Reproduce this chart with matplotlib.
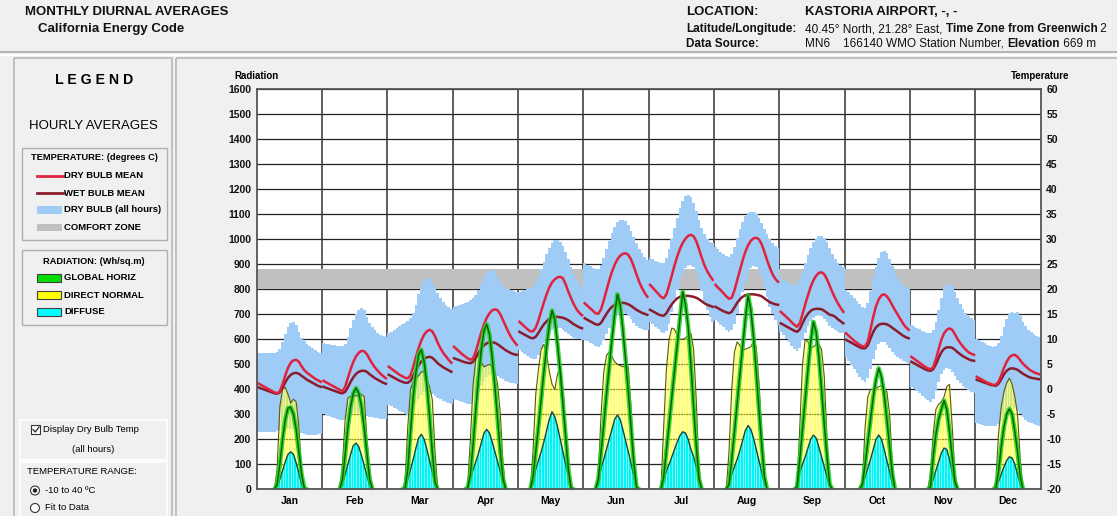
import numpy as np
import matplotlib
matplotlib.use("Agg")
import matplotlib.pyplot as plt
import matplotlib.transforms as mtransforms
from matplotlib.patches import Rectangle, Circle

plt.rcParams['font.family'] = ['Liberation Sans', 'DejaVu Sans']

MONTHS = ["Jan", "Feb", "Mar", "Apr", "May", "Jun",
          "Jul", "Aug", "Sep", "Oct", "Nov", "Dec"]
HOURS = list(range(24))

# Hourly means (deg C), one row of 24 hours per month
DRY_BULB_MEAN = [
    [1.2, 0.9, 0.6, 0.3, 0.0, -0.3, -0.6, -0.8, -0.4, 1.0, 2.8, 4.3, 5.3, 5.8, 5.9, 5.5, 4.6, 3.8, 3.3, 2.9, 2.5, 2.1, 1.8, 1.5],
    [1.7, 1.4, 1.1, 0.8, 0.5, 0.2, -0.1, -0.4, 0.5, 2.3, 4.0, 5.5, 6.6, 7.3, 7.7, 7.6, 7.0, 6.0, 5.1, 4.3, 3.7, 3.1, 2.6, 2.2],
    [4.5, 4.1, 3.7, 3.3, 2.9, 2.6, 2.3, 2.2, 2.8, 4.5, 6.5, 8.3, 9.8, 10.9, 11.6, 11.9, 11.6, 10.6, 9.3, 8.2, 7.3, 6.6, 5.9, 5.3],
    [8.5, 8.0, 7.5, 7.0, 6.6, 6.2, 5.9, 6.2, 7.6, 9.5, 11.4, 13.0, 14.3, 15.2, 15.8, 16.0, 15.8, 15.0, 13.8, 12.6, 11.4, 10.4, 9.6, 8.9],
    [13.5, 13.0, 12.5, 12.0, 11.6, 11.6, 12.3, 13.8, 15.6, 17.4, 19.0, 20.4, 21.4, 22.0, 22.4, 22.5, 22.2, 21.0, 19.5, 18.2, 17.0, 16.0, 15.3, 14.8],
    [17.2, 16.7, 16.2, 15.7, 15.2, 15.1, 16.0, 17.8, 19.8, 21.8, 23.5, 24.9, 26.0, 26.7, 27.1, 27.2, 26.9, 26.0, 24.6, 23.0, 21.5, 20.3, 19.3, 18.5],
    [20.9, 20.3, 19.7, 19.1, 18.5, 18.2, 19.0, 20.8, 22.8, 24.8, 26.6, 28.1, 29.3, 30.1, 30.7, 30.9, 30.6, 29.6, 28.0, 26.3, 24.8, 23.6, 22.7, 21.9],
    [20.9, 20.3, 19.8, 19.2, 18.6, 18.1, 18.3, 19.8, 21.8, 23.8, 25.8, 27.5, 28.8, 29.7, 30.2, 30.3, 30.0, 29.0, 27.5, 25.8, 24.3, 23.0, 22.1, 21.5],
    [15.5, 15.0, 14.5, 14.0, 13.4, 12.9, 12.5, 13.2, 15.0, 17.0, 18.8, 20.5, 21.8, 22.7, 23.3, 23.4, 23.0, 22.0, 20.7, 19.4, 18.2, 17.2, 16.3, 15.5],
    [11.2, 10.7, 10.2, 9.7, 9.3, 8.9, 8.6, 8.6, 9.6, 12.0, 14.5, 16.6, 18.0, 18.8, 19.0, 18.6, 17.8, 16.8, 15.8, 14.9, 14.0, 13.1, 12.4, 11.9],
    [6.5, 6.1, 5.7, 5.3, 4.9, 4.5, 4.2, 4.0, 4.4, 6.0, 8.0, 9.9, 11.2, 11.9, 12.2, 11.9, 11.0, 10.0, 9.2, 8.5, 7.9, 7.4, 7.1, 6.9],
    [2.5, 2.2, 1.9, 1.6, 1.3, 1.1, 0.9, 0.9, 1.5, 2.8, 4.3, 5.5, 6.4, 6.8, 6.9, 6.5, 5.8, 5.1, 4.6, 4.1, 3.7, 3.4, 3.2, 3.0],
]

WET_BULB_MEAN = [
    [0.4, 0.2, 0.0, -0.2, -0.4, -0.6, -0.8, -0.9, -0.6, 0.3, 1.4, 2.3, 2.9, 3.2, 3.3, 3.1, 2.7, 2.3, 1.9, 1.6, 1.3, 1.0, 0.7, 0.5],
    [0.5, 0.3, 0.1, -0.1, -0.3, -0.5, -0.7, -0.8, -0.5, 0.4, 1.5, 2.4, 3.1, 3.5, 3.7, 3.7, 3.5, 3.0, 2.6, 2.2, 1.9, 1.6, 1.3, 1.1],
    [2.9, 2.6, 2.3, 2.0, 1.7, 1.5, 1.3, 1.3, 1.7, 2.7, 3.8, 4.8, 5.6, 6.1, 6.4, 6.5, 6.3, 5.8, 5.2, 4.8, 4.4, 4.1, 3.8, 3.5],
    [6.2, 6.0, 5.8, 5.6, 5.4, 5.3, 5.2, 5.5, 6.4, 7.4, 8.2, 8.8, 9.2, 9.4, 9.4, 9.3, 9.0, 8.6, 8.2, 7.8, 7.5, 7.2, 7.0, 6.9],
    [11.5, 11.2, 10.9, 10.6, 10.3, 10.2, 10.5, 11.3, 12.2, 13.0, 13.6, 14.1, 14.4, 14.5, 14.5, 14.4, 14.3, 14.1, 13.8, 13.4, 13.0, 12.7, 12.4, 12.2],
    [14.2, 13.9, 13.6, 13.3, 13.0, 12.9, 13.3, 14.2, 15.1, 15.9, 16.5, 16.9, 17.2, 17.3, 17.3, 17.2, 17.0, 16.7, 16.3, 15.9, 15.6, 15.3, 15.1, 14.9],
    [15.9, 15.6, 15.3, 15.0, 14.8, 14.7, 15.2, 16.2, 17.0, 17.7, 18.2, 18.5, 18.7, 18.7, 18.7, 18.6, 18.5, 18.3, 18.0, 17.6, 17.2, 16.9, 16.7, 16.5],
    [16.5, 16.2, 15.9, 15.6, 15.4, 15.2, 15.5, 16.4, 17.3, 18.0, 18.5, 18.8, 19.0, 19.0, 19.0, 18.9, 18.8, 18.6, 18.2, 17.8, 17.4, 17.2, 17.0, 16.9],
    [13.2, 12.9, 12.6, 12.3, 12.0, 11.7, 11.5, 12.0, 13.2, 14.3, 15.1, 15.7, 16.0, 16.1, 16.1, 16.0, 15.7, 15.3, 14.9, 14.8, 14.5, 14.0, 13.6, 13.2],
    [9.9, 9.6, 9.3, 9.0, 8.7, 8.4, 8.2, 8.2, 8.8, 10.2, 11.5, 12.4, 12.9, 13.1, 13.1, 13.0, 12.7, 12.3, 11.9, 11.5, 11.1, 10.7, 10.4, 10.2],
    [5.5, 5.2, 4.9, 4.6, 4.3, 4.0, 3.8, 3.7, 4.0, 5.0, 6.3, 7.4, 8.1, 8.4, 8.4, 8.3, 7.9, 7.4, 7.0, 6.6, 6.3, 6.0, 5.8, 5.7],
    [1.9, 1.7, 1.5, 1.3, 1.1, 0.9, 0.8, 0.7, 1.1, 2.0, 3.0, 3.7, 4.1, 4.2, 4.1, 3.9, 3.5, 3.1, 2.8, 2.5, 2.3, 2.2, 2.1, 2.0],
]

# Range of dry bulb temperature over all hours (deg C)
DRY_BULB_MAX = [
    [7.2, 7.2, 7.2, 7.2, 7.2, 7.2, 7.2, 7.4, 8.0, 9.5, 11.0, 12.5, 13.3, 13.4, 12.8, 11.5, 10.3, 9.6, 9.0, 8.6, 8.2, 7.8, 7.4, 7.2],
    [9.2, 9.1, 9.0, 8.9, 8.8, 8.7, 8.6, 8.6, 9.0, 10.5, 12.2, 13.8, 15.0, 15.9, 16.3, 15.8, 14.5, 13.3, 12.5, 11.8, 11.3, 10.9, 10.6, 10.4],
    [11.3, 11.5, 11.8, 12.2, 12.6, 13.0, 13.3, 13.6, 14.2, 15.2, 16.8, 19.0, 20.6, 21.8, 22.3, 22.0, 21.3, 20.3, 19.3, 18.3, 17.5, 16.8, 16.4, 16.0],
    [16.5, 16.6, 16.8, 17.0, 17.2, 17.5, 17.8, 18.2, 18.8, 19.8, 21.0, 22.2, 23.2, 23.8, 23.9, 23.5, 22.5, 21.5, 20.8, 20.3, 20.0, 19.8, 19.6, 19.5],
    [19.5, 19.6, 19.8, 20.0, 20.2, 20.5, 21.2, 22.5, 24.0, 25.5, 27.0, 28.3, 29.2, 29.8, 29.9, 29.5, 28.7, 27.5, 26.0, 24.5, 23.0, 21.8, 20.8, 20.0],
    [25.2, 24.9, 24.6, 24.3, 24.0, 24.0, 24.8, 26.3, 28.0, 29.7, 31.2, 32.5, 33.4, 33.8, 33.9, 33.6, 32.8, 31.7, 30.4, 29.2, 28.1, 27.2, 26.5, 25.9],
    [26.5, 26.1, 25.7, 25.4, 25.2, 25.3, 26.3, 28.0, 30.0, 32.2, 34.3, 36.2, 37.7, 38.6, 38.9, 38.5, 37.3, 35.6, 33.8, 32.2, 31.0, 30.1, 29.5, 29.2],
    [28.5, 28.0, 27.5, 27.0, 26.6, 26.5, 27.0, 28.5, 30.3, 32.0, 33.5, 34.6, 35.3, 35.5, 35.4, 35.0, 34.3, 33.3, 32.1, 31.0, 30.0, 29.2, 28.6, 28.2],
    [22.2, 21.9, 21.6, 21.3, 21.0, 20.8, 21.0, 22.0, 23.6, 25.3, 26.9, 28.3, 29.4, 30.1, 30.6, 30.7, 30.3, 29.4, 28.2, 27.0, 26.0, 25.3, 24.8, 24.5],
    [19.9, 19.4, 18.8, 18.2, 17.6, 17.0, 16.4, 16.3, 17.3, 19.6, 22.2, 24.5, 26.3, 27.4, 27.7, 27.2, 26.0, 24.6, 23.3, 22.2, 21.4, 20.8, 20.4, 20.2],
    [12.9, 12.6, 12.3, 12.0, 11.7, 11.4, 11.2, 11.2, 11.8, 13.5, 15.8, 18.2, 20.0, 20.9, 21.1, 20.6, 19.5, 18.2, 17.0, 16.0, 15.2, 14.6, 14.2, 13.9],
    [10.0, 9.8, 9.5, 9.2, 8.9, 8.6, 8.5, 8.6, 9.2, 10.6, 12.4, 14.0, 15.2, 15.4, 15.3, 15.5, 14.6, 13.5, 12.6, 11.9, 11.4, 11.0, 10.7, 10.5],
]

DRY_BULB_MIN = [
    [-8.5, -8.5, -8.5, -8.6, -8.6, -8.6, -8.5, -8.4, -8.2, -8.0, -7.9, -7.9, -8.0, -8.2, -8.4, -8.6, -8.8, -9.0, -9.2, -9.2, -9.2, -9.1, -9.0, -9.0],
    [-5.0, -5.2, -5.4, -5.6, -5.8, -6.0, -6.1, -6.2, -6.0, -5.5, -5.0, -4.7, -4.6, -4.7, -4.9, -5.1, -5.3, -5.5, -5.6, -5.7, -5.8, -5.9, -6.0, -6.0],
    [-3.1, -3.4, -3.7, -4.0, -4.3, -4.6, -4.9, -5.1, -4.8, -4.0, -3.0, -2.0, -1.2, -0.6, -0.3, -0.5, -0.9, -1.3, -1.7, -2.0, -2.3, -2.5, -2.7, -2.9],
    [-2.0, -2.2, -2.4, -2.6, -2.8, -3.0, -3.0, -2.7, -1.8, -0.6, 0.6, 1.6, 2.4, 2.9, 3.1, 3.0, 2.7, 2.3, 2.0, 1.7, 1.5, 1.3, 1.2, 1.1],
    [7.9, 7.5, 7.1, 6.7, 6.3, 6.0, 6.0, 6.8, 8.0, 9.2, 10.3, 11.2, 11.8, 12.2, 12.3, 12.2, 11.9, 11.5, 11.0, 10.6, 10.3, 10.1, 10.0, 9.9],
    [9.9, 9.6, 9.3, 9.0, 8.7, 8.5, 8.8, 9.8, 11.0, 12.2, 13.3, 14.2, 14.8, 15.2, 15.3, 15.1, 14.6, 14.0, 13.3, 12.7, 12.3, 12.0, 11.9, 11.9],
    [13.5, 13.0, 12.5, 12.0, 11.5, 11.2, 11.6, 13.0, 15.5, 18.0, 19.8, 21.5, 23.0, 24.2, 24.8, 24.9, 24.4, 23.2, 21.5, 19.6, 17.5, 15.8, 14.5, 13.5],
    [13.9, 13.4, 12.9, 12.4, 11.9, 11.5, 11.8, 13.0, 15.0, 17.5, 19.5, 21.5, 23.2, 24.3, 24.6, 24.5, 24.1, 22.5, 20.5, 18.5, 16.5, 15.0, 13.8, 12.9],
    [11.5, 10.8, 10.1, 9.4, 8.7, 8.0, 7.6, 8.3, 9.8, 11.3, 12.6, 13.6, 14.3, 14.7, 14.8, 14.6, 14.1, 13.4, 12.7, 12.2, 11.8, 11.5, 11.3, 11.2],
    [6.5, 5.6, 4.8, 4.0, 3.2, 2.4, 1.8, 1.5, 2.2, 4.0, 6.1, 7.8, 9.0, 9.5, 9.4, 8.9, 8.2, 7.5, 6.9, 6.4, 6.0, 5.6, 5.4, 5.2],
    [0.5, 0.1, -0.3, -0.8, -1.3, -1.8, -2.2, -2.5, -2.0, -0.4, 1.5, 3.0, 3.9, 4.2, 4.0, 3.4, 2.6, 1.8, 1.2, 0.6, 0.2, -0.2, -0.5, -0.8],
    [-6.8, -7.0, -7.2, -7.3, -7.4, -7.4, -7.4, -7.3, -7.0, -6.3, -5.3, -4.4, -3.8, -3.6, -3.8, -4.3, -5.0, -5.6, -6.1, -6.5, -6.8, -7.0, -7.2, -7.4],
]

# Hourly radiation (Wh/sq.m)
GLOBAL_HORIZ = [
    [0, 0, 0, 0, 0, 0, 0, 20, 100, 200, 280, 325, 328, 300, 240, 150, 60, 5, 0, 0, 0, 0, 0, 0],
    [0, 0, 0, 0, 0, 0, 0, 40, 140, 250, 330, 385, 405, 385, 330, 245, 140, 40, 0, 0, 0, 0, 0, 0],
    [0, 0, 0, 0, 0, 0, 5, 80, 230, 370, 470, 540, 558, 510, 420, 290, 150, 30, 0, 0, 0, 0, 0, 0],
    [0, 0, 0, 0, 0, 5, 60, 180, 320, 450, 560, 635, 660, 620, 530, 410, 280, 150, 40, 0, 0, 0, 0, 0],
    [0, 0, 0, 0, 0, 50, 150, 250, 360, 470, 570, 660, 715, 680, 580, 470, 340, 210, 80, 5, 0, 0, 0, 0],
    [0, 0, 0, 0, 0, 40, 150, 260, 380, 490, 600, 700, 780, 740, 640, 520, 390, 250, 110, 10, 0, 0, 0, 0],
    [0, 0, 0, 0, 0, 50, 155, 260, 370, 475, 580, 685, 790, 740, 650, 500, 330, 170, 40, 0, 0, 0, 0, 0],
    [0, 0, 0, 0, 0, 20, 120, 230, 345, 460, 570, 680, 775, 720, 610, 470, 320, 180, 50, 0, 0, 0, 0, 0],
    [0, 0, 0, 0, 0, 0, 10, 120, 240, 360, 480, 590, 670, 630, 530, 400, 260, 130, 20, 0, 0, 0, 0, 0],
    [0, 0, 0, 0, 0, 0, 20, 100, 190, 280, 370, 440, 484, 450, 380, 280, 170, 60, 0, 0, 0, 0, 0, 0],
    [0, 0, 0, 0, 0, 0, 0, 10, 130, 220, 280, 320, 355, 320, 230, 130, 30, 0, 0, 0, 0, 0, 0, 0],
    [0, 0, 0, 0, 0, 0, 0, 5, 70, 170, 250, 300, 322, 300, 230, 150, 50, 0, 0, 0, 0, 0, 0, 0],
]

DIRECT_NORMAL = [
    [0, 0, 0, 0, 0, 0, 0, 80, 330, 400, 408, 380, 345, 360, 350, 250, 60, 0, 0, 0, 0, 0, 0, 0],
    [0, 0, 0, 0, 0, 0, 0, 100, 280, 365, 372, 372, 375, 372, 380, 370, 200, 70, 0, 0, 0, 0, 0, 0],
    [0, 0, 0, 0, 0, 0, 30, 250, 400, 430, 445, 455, 470, 470, 440, 410, 360, 150, 0, 0, 0, 0, 0, 0],
    [0, 0, 0, 0, 0, 20, 200, 420, 520, 540, 510, 490, 495, 500, 490, 470, 420, 300, 100, 0, 0, 0, 0, 0],
    [0, 0, 0, 0, 0, 150, 380, 480, 560, 580, 540, 470, 420, 400, 460, 490, 400, 250, 30, 0, 0, 0, 0, 0],
    [0, 0, 0, 0, 0, 60, 300, 470, 535, 550, 530, 510, 500, 495, 490, 495, 490, 330, 120, 0, 0, 0, 0, 0],
    [0, 0, 0, 0, 0, 250, 480, 600, 645, 640, 615, 600, 600, 605, 615, 625, 560, 350, 60, 0, 0, 0, 0, 0],
    [0, 0, 0, 0, 0, 150, 400, 550, 590, 575, 560, 560, 565, 570, 590, 570, 430, 230, 50, 0, 0, 0, 0, 0],
    [0, 0, 0, 0, 0, 0, 0, 250, 500, 600, 590, 565, 570, 580, 580, 560, 450, 200, 10, 0, 0, 0, 0, 0],
    [0, 0, 0, 0, 0, 0, 30, 250, 370, 400, 400, 405, 410, 415, 405, 390, 300, 100, 0, 0, 0, 0, 0, 0],
    [0, 0, 0, 0, 0, 0, 0, 60, 220, 320, 340, 350, 370, 410, 420, 250, 60, 0, 0, 0, 0, 0, 0, 0],
    [0, 0, 0, 0, 0, 0, 0, 30, 220, 330, 390, 425, 445, 420, 370, 300, 120, 0, 0, 0, 0, 0, 0, 0],
]

DIFFUSE = [
    [0, 0, 0, 0, 0, 0, 0, 10, 40, 75, 110, 140, 150, 140, 105, 65, 20, 0, 0, 0, 0, 0, 0, 0],
    [0, 0, 0, 0, 0, 0, 0, 20, 60, 100, 140, 175, 185, 170, 135, 95, 55, 15, 0, 0, 0, 0, 0, 0],
    [0, 0, 0, 0, 0, 0, 0, 40, 80, 120, 165, 205, 220, 200, 160, 115, 70, 25, 0, 0, 0, 0, 0, 0],
    [0, 0, 0, 0, 0, 5, 45, 80, 110, 145, 185, 225, 240, 225, 190, 150, 110, 70, 30, 0, 0, 0, 0, 0],
    [0, 0, 0, 0, 0, 20, 80, 115, 150, 190, 235, 280, 310, 290, 250, 200, 150, 100, 50, 10, 0, 0, 0, 0],
    [0, 0, 0, 0, 0, 20, 85, 120, 160, 200, 240, 280, 297, 280, 240, 195, 150, 105, 55, 10, 0, 0, 0, 0],
    [0, 0, 0, 0, 0, 30, 75, 100, 130, 160, 190, 215, 230, 225, 200, 160, 130, 90, 40, 0, 0, 0, 0, 0],
    [0, 0, 0, 0, 0, 15, 60, 90, 120, 155, 195, 235, 255, 240, 205, 160, 115, 70, 25, 0, 0, 0, 0, 0],
    [0, 0, 0, 0, 0, 0, 5, 70, 100, 130, 165, 200, 217, 205, 170, 130, 90, 50, 10, 0, 0, 0, 0, 0],
    [0, 0, 0, 0, 0, 0, 10, 50, 85, 120, 160, 200, 217, 200, 160, 115, 70, 25, 0, 0, 0, 0, 0, 0],
    [0, 0, 0, 0, 0, 0, 0, 10, 40, 75, 110, 145, 165, 160, 120, 70, 20, 0, 0, 0, 0, 0, 0, 0],
    [0, 0, 0, 0, 0, 0, 0, 5, 30, 60, 90, 115, 130, 125, 100, 60, 20, 0, 0, 0, 0, 0, 0, 0],
]

COMFORT_LOW, COMFORT_HIGH = 20, 24
RAD_TICKS = list(range(0, 1601, 100))
TEMP_TICKS = list(range(-20, 61, 5))
RAD_RANGE = (0, 1600)
TEMP_RANGE = (-20, 60)

# ---------------------------------------------------------------- colours
BG = '#f0f0f0'
C_BAND = '#9fcbf7'
C_COMFORT = '#c0c0c0'
C_DRY = '#e0233d'
C_WET = '#8b1c2c'
C_GLOBAL = '#1ed51e'
C_GLOBAL_CORE = '#0a5a0a'
C_DIRECT = '#ffff00'
C_DIRECT_EDGE = '#5a5a10'
C_DIFFUSE = '#00f4f4'
C_DIFFUSE_EDGE = '#0a4848'

W, H = 1117, 516
fig = plt.figure(figsize=(W / 100, H / 100), dpi=100, facecolor=BG)

# pixel-space layer for the frame, header and legend panel
bg = fig.add_axes([0, 0, 1, 1], zorder=0)
bg.set_xlim(0, W)
bg.set_ylim(H, 0)
bg.axis('off')
renderer = fig.canvas.get_renderer()


def text_run(x, y, pieces, size):
    for s, weight in pieces:
        t = bg.text(x, y, s, fontsize=size, fontweight=weight,
                    va='center', ha='left', color='#111111')
        x += t.get_window_extent(renderer=renderer).width


# header
text_run(25, 12, [("MONTHLY DIURNAL AVERAGES", 'bold')], 9.5)
text_run(38, 29, [("California Energy Code", 'bold')], 9.5)
text_run(686, 12, [("LOCATION:", 'bold')], 9.5)
text_run(805, 12, [("KASTORIA AIRPORT, -, -", 'bold')], 9.5)
text_run(686, 29, [("Latitude/Longitude:", 'bold')], 8.5)
text_run(805, 29, [("40.45° North, 21.28° East, ", 'normal'),
                   ("Time Zone from Greenwich", 'bold'), (" 2", 'normal')], 8.5)
text_run(686, 44, [("Data Source:", 'bold')], 8.5)
text_run(805, 44, [("MN6", 'normal')], 8.5)
text_run(843, 44, [("166140 WMO Station Number, ", 'normal'),
                   ("Elevation", 'bold'), (" 669 m", 'normal')], 8.5)

# separators and panel frames
bg.plot([0, W], [52, 52], color='#a8a8a8', lw=1.2)
bg.plot([0, W], [55, 55], color='#ffffff', lw=1.2)
bg.add_patch(Rectangle((14, 58), 158, 470, fill=False, ec='#b8b8b8', lw=1.2))
bg.add_patch(Rectangle((176, 58), 945, 470, fill=False, ec='#b8b8b8', lw=1.2))

# legend panel
bg.text(94, 80, "L E G E N D", ha='center', va='center', fontsize=10.2, fontweight='bold')
bg.text(93, 126, "HOURLY AVERAGES", ha='center', va='center', fontsize=9.5)

bg.add_patch(Rectangle((22, 148), 145, 92, fc=BG, ec='#b0b0b0', lw=1))
bg.add_patch(Rectangle((22, 250), 145, 75, fc=BG, ec='#b0b0b0', lw=1))
bg.text(94, 158, "TEMPERATURE: (degrees C)", ha='center', va='center',
        fontsize=6.7, fontweight='bold')
bg.text(94, 262, "RADIATION: (Wh/sq.m)", ha='center', va='center',
        fontsize=6.7, fontweight='bold')

leg_fs = 6.8
bg.plot([37, 63], [176, 176], color=C_DRY, lw=2)
bg.text(64, 176, "DRY BULB MEAN", va='center', fontsize=leg_fs, fontweight='bold')
bg.plot([37, 63], [193, 193], color=C_WET, lw=2)
bg.text(64, 193, "WET BULB MEAN", va='center', fontsize=leg_fs, fontweight='bold')
bg.add_patch(Rectangle((37, 206), 25, 8, fc=C_BAND, ec='none'))
bg.text(64, 210, "DRY BULB (all hours)", va='center', fontsize=leg_fs, fontweight='bold')
bg.add_patch(Rectangle((37, 224), 25, 7, fc=C_COMFORT, ec='none'))
bg.text(64, 228, "COMFORT ZONE", va='center', fontsize=leg_fs, fontweight='bold')

for yy, fc, label in [(278, '#00dd00', "GLOBAL HORIZ"),
                      (295, '#ffff00', "DIRECT NORMAL"),
                      (312, '#00ffff', "DIFFUSE")]:
    bg.add_patch(Rectangle((37, yy - 4), 24, 8, fc=fc, ec='#404040', lw=0.8))
    bg.text(64, yy, label, va='center', fontsize=leg_fs, fontweight='bold')

# option boxes
bg.add_patch(Rectangle((20, 420), 147, 40, fc=BG, ec='#ffffff', lw=1.2))
bg.add_patch(Rectangle((20, 462), 147, 60, fc=BG, ec='#ffffff', lw=1.2))
bg.add_patch(Rectangle((31, 425), 9, 9, fc='white', ec='#333333', lw=0.8))
bg.plot([33, 35.3, 39], [429.5, 432, 427], color='#222222', lw=0.9)
bg.text(43, 430, "Display Dry Bulb Temp", va='center', fontsize=6.8)
bg.text(93, 449, "(all hours)", ha='center', va='center', fontsize=6.8)
bg.text(27, 471, "TEMPERATURE RANGE:", va='center', fontsize=6.8)
bg.add_patch(Circle((35, 490.5), 4.5, fc='white', ec='#333333', lw=0.8))
bg.add_patch(Circle((35, 490.5), 2.2, fc='#222222', ec='none'))
bg.text(45, 490.5, "-10 to 40 ºC", va='center', fontsize=6.8)
bg.add_patch(Circle((35, 508), 4.5, fc='white', ec='#333333', lw=0.8))
bg.text(45, 508, "Fit to Data", va='center', fontsize=6.8)

# ---------------------------------------------------------------- chart
left_px, right_px, top_px, bottom_px = 256.7, 1040.7, 89.3, 489.3
rect = [left_px / W, 1 - bottom_px / H, (right_px - left_px) / W, (bottom_px - top_px) / H]

ax = fig.add_axes(rect, zorder=1)
ax.set_facecolor('white')
n_months = len(MONTHS)
ax.set_xlim(0, n_months)
ax.set_ylim(*RAD_RANGE)

# temperature data share the plot through an affine map onto the radiation scale
k = (RAD_RANGE[1] - RAD_RANGE[0]) / (TEMP_RANGE[1] - TEMP_RANGE[0])
temp_to_rad = mtransforms.Affine2D().scale(1, k).translate(0, RAD_RANGE[0] - TEMP_RANGE[0] * k)
tT = temp_to_rad + ax.transData

# grid
for t in TEMP_TICKS:
    ax.axhline((t - TEMP_RANGE[0]) * k, color='#222222', lw=0.9, zorder=0.5)
for i in range(1, n_months):
    ax.axvline(i, color='#333333', lw=1.1, zorder=0.5)

# comfort zone, under the dry bulb band
ax.fill_between([0, n_months], COMFORT_LOW, COMFORT_HIGH, transform=tT,
                facecolor=C_COMFORT, edgecolor='none', lw=0, zorder=1)

hours = np.array(HOURS)
for i in range(n_months):
    x_mid = i + (hours + 0.5) / 24
    # hourly steps: every hour occupies a flat 1/24 slice of the month panel
    x_step = np.repeat(i + np.arange(25) / 24, 2)[1:-1]
    lo = np.repeat(DRY_BULB_MIN[i], 2)
    hi = np.repeat(DRY_BULB_MAX[i], 2)
    ax.fill_between(x_step, lo, hi, transform=tT, facecolor=C_BAND,
                    edgecolor='none', lw=0, zorder=2)

    g = np.array(GLOBAL_HORIZ[i], float)
    dn = np.array(DIRECT_NORMAL[i], float)
    df = np.array(DIFFUSE[i], float)
    day = np.nonzero((g > 0) | (dn > 0) | (df > 0))[0]
    a, b = max(day[0] - 1, 0), min(day[-1] + 2, 24)
    xs = x_mid[a:b]

    ax.fill_between(xs, 0, dn[a:b], color=C_DIRECT, alpha=0.55, lw=0, zorder=3)
    ax.fill_between(xs, 0, df[a:b], color=C_DIFFUSE, lw=0, zorder=4)
    top = np.maximum(dn, df)
    ax.vlines(x_mid[day], 0, top[day], colors='white', lw=0.6, alpha=0.6, zorder=5)
    ax.plot(xs, dn[a:b], color=C_DIRECT_EDGE, lw=0.8, zorder=6)
    ax.plot(xs, df[a:b], color=C_DIFFUSE_EDGE, lw=1.0, zorder=6)

    ax.plot(x_mid, WET_BULB_MEAN[i], transform=tT, color=C_WET, lw=1.8, zorder=7)
    ax.plot(x_mid, DRY_BULB_MEAN[i], transform=tT, color=C_DRY, lw=1.8, zorder=8)

    ax.plot(xs, g[a:b], color=C_GLOBAL, lw=3.2, alpha=0.9, zorder=9,
            solid_capstyle='round')
    ax.plot(xs, g[a:b], color=C_GLOBAL_CORE, lw=1.0, zorder=10)

for sp in ax.spines.values():
    sp.set_color('#555555')
    sp.set_linewidth(1.3)
    sp.set_zorder(11)

tick_kw = dict(labelsize=7.5, length=0, pad=4, colors='#111111')
ax.set_yticks(RAD_TICKS)
ax.set_yticklabels([str(t) for t in RAD_TICKS], fontweight='bold')
ax.tick_params(axis='y', **tick_kw)

sec = ax.secondary_yaxis('right', functions=(lambda r: r / k + TEMP_RANGE[0],
                                             lambda t: (t - TEMP_RANGE[0]) * k))
sec.set_yticks(TEMP_TICKS)
sec.set_yticklabels([str(t) for t in TEMP_TICKS], fontweight='bold')
sec.tick_params(axis='y', **tick_kw)
sec.spines['right'].set_visible(False)

ax.set_xticks([i + 0.5 for i in range(n_months)])
ax.set_xticklabels(MONTHS, fontweight='bold')
ax.tick_params(axis='x', labelsize=7.5, length=0, pad=5)

bg.text(234, 76, "Radiation", va='center', ha='left', fontsize=7, fontweight='bold')
bg.text(1069, 76, "Temperature", va='center', ha='right', fontsize=7, fontweight='bold')

fig.savefig("out.png", dpi=100, facecolor=BG)
